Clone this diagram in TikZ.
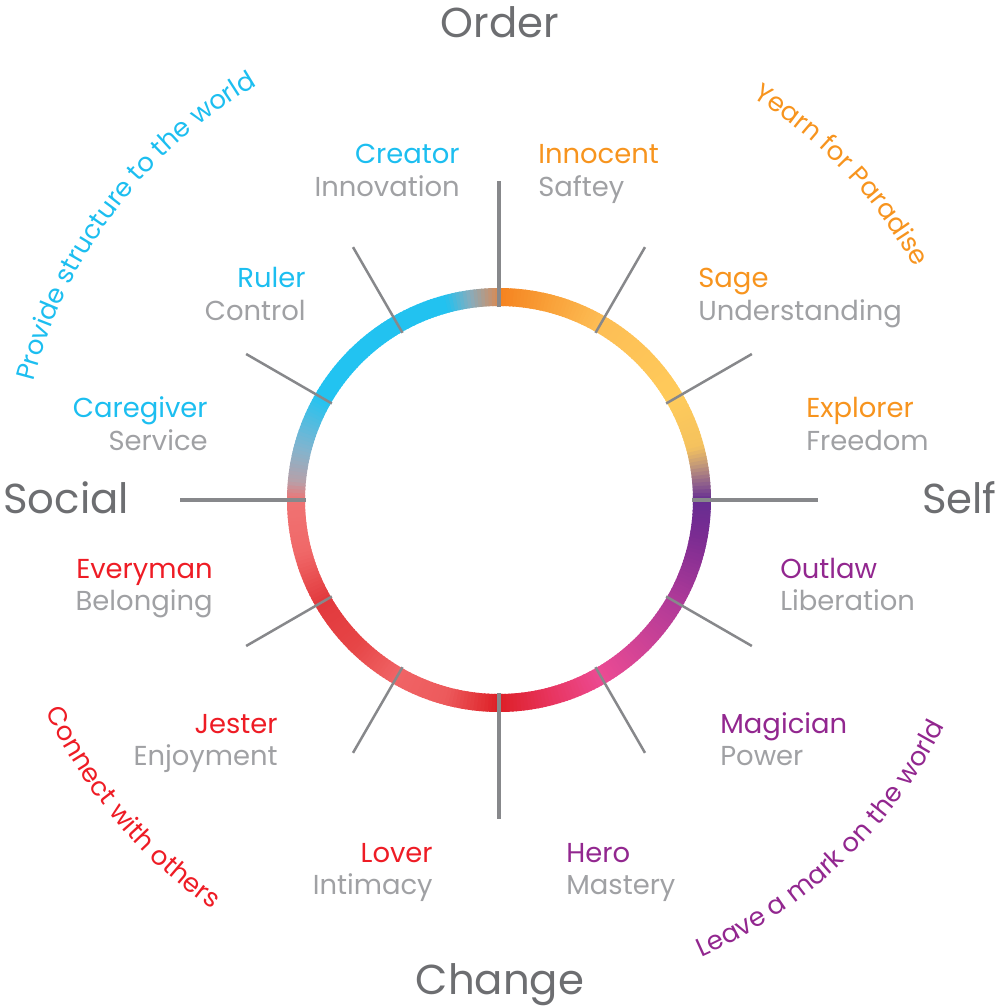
\documentclass[tikz,border=0pt]{standalone}
\usepackage{fontspec}
\setmainfont{Poppins}
\usetikzlibrary{decorations.text}
\definecolor{archblue}{HTML}{1CBEF0}
\definecolor{archorange}{HTML}{F7941E}
\definecolor{archred}{HTML}{EE1C25}
\definecolor{archpurple}{HTML}{92278F}
\definecolor{traitgray}{HTML}{A0A1A4}
\definecolor{polegray}{HTML}{6D6E71}
\definecolor{spokegray}{HTML}{87888B}
\newcommand{\curvefont}{\fontsize{14.8}{17}\selectfont}
\tikzset{
  ring/.style={line width=3.6mm},
  spoke/.style={draw=spokegray, line width=0.5mm},
  axisline/.style={draw=spokegray, line width=0.8mm},
  pole/.style={text=polegray, font=\fontsize{23.8}{28}\selectfont, inner sep=0pt},
  archname/.style={font=\fontsize{15.6}{18}\selectfont, inner sep=0pt},
  archtrait/.style={text=traitgray, font=\fontsize{15.6}{18}\selectfont, inner sep=0pt},
}

\begin{document}
\begin{tikzpicture}[x=0.02cm,y=0.02cm]
  \useasboundingbox (-499,-507) rectangle (499,500);

  % colour ring, clockwise from the top
  \foreach \ta/\tb/\ca/\cb in {0/15/F5821F/F9A23A, 15/30/F9A23A/FDBE55, 30/60/FDBE55/FFCB5B,
      60/75/FFCB5B/F5C25E, 75/80/F5C25E/C49A78, 80/86/C49A78/8A5A8E, 86/90/8A5A8E/662D91,
      90/100/662D91/7A2C92, 100/120/7A2C92/B03A98, 120/150/B03A98/EC4B93, 150/165/EC4B93/E83560,
      165/180/E83560/DD1F26, 180/195/DD1F26/ED5A5C, 195/210/ED5A5C/F06466, 210/225/F06466/E64546,
      225/240/E64546/E2393D, 240/255/E2393D/F06868, 255/270/F06868/F07373, 270/275/F07373/B8A0A8,
      275/285/B8A0A8/7FB5D0, 285/300/7FB5D0/22C3F1, 300/345/22C3F1/22C2F0, 345/352/22C2F0/88ACBC,
      352/358/88ACBC/C8926E, 358/360/C8926E/D88A50}{
    \definecolor{ringa}{HTML}{\ca}
    \definecolor{ringb}{HTML}{\cb}
    \pgfmathtruncatemacro\nstep{\tb-\ta}
    \foreach \i in {1,...,\nstep}{
      \pgfmathsetmacro\anga{90-\ta-\i+1}
      \pgfmathsetmacro\angb{\anga-1.4}
      \pgfmathtruncatemacro\mix{100*(\i-0.5)/\nstep}
      \draw[ring, draw=ringb!\mix!ringa] (\anga:203) arc (\anga:\angb:203);
    }
  }

  % spokes
  \foreach \a in {0,90,180,270}
    \draw[axisline] (\a:193) -- (\a:319);
  \foreach \a in {30,60,120,150,210,240,300,330}
    \draw[spoke] (\a:193) -- (\a:292);

  % poles
  \node[pole, anchor=base] (order) at (1,462) {Order};
  \node[pole, anchor=base] (change) at (1,-494) {Change};
  \node[pole, anchor=base west] (social) at (-496,-13) {Social};
  \node[pole, anchor=base east] (self) at (498,-13) {Self};

  % archetypes
  \foreach \px/\py/\side/\col/\nm/\ds in {
      -39/336/east/archblue/Creator/Innovation, 39/336/west/archorange/Innocent/Saftey,
      199/212/west/archorange/Sage/Understanding, 307/82/west/archorange/Explorer/Freedom,
      281/-78/west/archpurple/Outlaw/Liberation, 221/-233/west/archpurple/Magician/Power,
      67/-362/west/archpurple/Hero/Mastery, -66/-362/east/archred/Lover/Intimacy,
      -221/-233/east/archred/Jester/Enjoyment, -286/-78/east/archred/Everyman/Belonging,
      -291/82/east/archblue/Caregiver/Service, -193/212/east/archblue/Ruler/Control}{
    \node[archname, text=\col, anchor=base \side] (n-\nm) at (\px,\py) {\nm};
    \node[archtrait, anchor=base \side] (d-\nm) at (\px,\py-32.5) {\ds};
  }

  % motivations along the outer arc
  \path[decorate, decoration={text along path, text align=center,
      text={|\curvefont\color{archblue}|Provide structure to the world}}]
    (178:480) arc (178:108:480);
  \path[decorate, decoration={text along path, text align=center,
      text={|\curvefont\color{archorange}|Yearn for Paradise}}]
    (66:476) arc (66:21:476);
  \path[decorate, decoration={text along path, text align=center,
      text={|\curvefont\color{archpurple}|Leave a mark on the world}}]
    (-70:500) arc (-70:-23:500);
  \path[decorate, decoration={text along path, text align=center,
      text={|\curvefont\color{archred}|Connect with others}}]
    (197:500) arc (197:243:500);
\end{tikzpicture}
\end{document}
